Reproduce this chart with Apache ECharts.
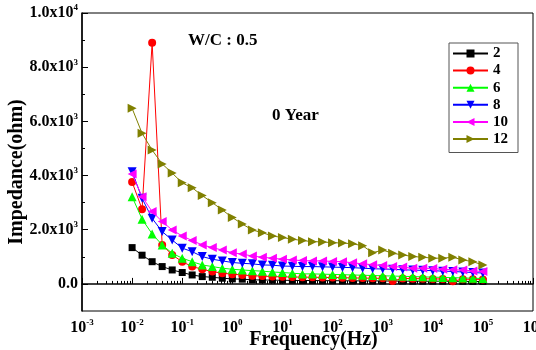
<!DOCTYPE html>
<html><head><meta charset="utf-8">
<script src="https://cdn.jsdelivr.net/npm/echarts@6/dist/echarts.min.js"></script>
<style>html,body{margin:0;padding:0;background:#fff}#c{width:536px;height:350px}</style>
</head><body><div id="c"></div>
<script>
var freq = [0.01,0.0158,0.0251,0.0398,0.0631,0.1,0.158,0.251,0.398,0.631,1,1.58,2.51,3.98,6.31,10,15.8,25.1,39.8,63.1,100,158,251,398,631,1000,1580,2510,3980,6310,10000,15800,25100,39800,63100,100000];
var s2  = [1340,1060,820,640,515,420,330,270,245,210,185,175,150,145,140,135,130,125,125,120,120,115,115,110,110,110,105,105,100,100,100,100,95,95,90,90];
var s4  = [3760,2760,8900,1440,1070,820,640,540,455,395,360,330,300,290,270,260,255,250,245,240,235,230,220,215,210,205,110,200,195,190,185,180,100,175,170,165];
var s6  = [3220,2390,1845,1440,1130,950,820,700,640,580,540,515,490,470,440,420,395,370,370,360,350,340,330,320,310,300,290,280,270,260,250,240,230,220,210,200];
var s8  = [4140,3160,2420,1930,1620,1320,1190,1010,910,850,790,760,740,700,690,660,650,640,640,630,620,610,600,580,560,550,540,520,510,500,490,470,460,440,420,400];
var s10 = [4060,3220,2670,2300,1990,1770,1600,1440,1340,1250,1150,1100,1030,985,950,910,885,860,850,850,830,820,780,740,710,680,640,620,580,580,570,540,520,510,480,460];
var s12 = [6480,5560,4940,4430,4090,3730,3550,3260,3000,2730,2450,2210,1990,1890,1770,1710,1650,1600,1560,1550,1520,1510,1480,1410,1150,1250,1130,1070,1010,985,950,950,985,885,820,700];
var seriesNames = ['2','4','6','8','10','12'];
var yLabelValues = [0,2000,4000,6000,8000,10000];
var yMinorValues = [1000,3000,5000,7000,9000];
var xMinorValues = [];
[0.001,0.01,0.1,1,10,100,1000,10000,100000].forEach(function(d){for(var m=2;m<=9;m++){xMinorValues.push(+(m*d).toPrecision(3));}});

var FONT = '"Liberation Serif","Times New Roman",serif';
function pairs(arr){return arr.map(function(v,i){return [freq[i],v];});}
var colors = ['#000000','#ff0000','#00ff00','#0000ff','#ff00ff','#808000'];
var symbols = ['rect','circle','path://M5,0L10,10L0,10Z','path://M0,0L10,0L5,10Z','path://M10,0L10,10L0,5Z','path://M0,0L10,5L0,10Z'];
var sizes = [7,8,9,9,9,9];
var data = [s2,s4,s6,s8,s10,s12];
var series = data.map(function(d,i){
  return {name:seriesNames[i],type:'line',data:pairs(d),symbol:symbols[i],symbolSize:sizes[i],
    itemStyle:{color:colors[i]},lineStyle:{color:colors[i],width:1},showSymbol:true,animation:false,z:2+i};
});
var rich = {b:{fontFamily:FONT,fontWeight:'bold',fontSize:16,color:'#000'},s:{fontFamily:FONT,fontWeight:'bold',fontSize:9,color:'#000',padding:[0,0,10,0]}};
var chart = echarts.init(document.getElementById('c'),null,{renderer:'canvas'});
chart.setOption({
  animation:false,
  grid:{left:82,right:3,top:13,bottom:39,show:true,borderColor:'#000',borderWidth:1,containLabel:false,outerBoundsMode:'none'},
  legend:{orient:'vertical',left:449,top:43,data:seriesNames,itemWidth:35,itemHeight:10,itemGap:2.1,
    padding:[3,10,6,3],borderColor:'#555',borderWidth:1,backgroundColor:'#fff',
    textStyle:{fontFamily:FONT,fontWeight:'bold',fontSize:15,color:'#000',lineHeight:14}},
  xAxis:[{type:'log',logBase:10,min:0.001,max:1000000,position:'bottom',
    axisLine:{lineStyle:{color:'#000',width:1.5}},
    axisTick:{inside:true,length:6,lineStyle:{color:'#000'}},
    splitLine:{show:false},
    axisLabel:{margin:7,formatter:function(v){return '{b|10}{s|'+Math.round(Math.log10(v))+'}';},rich:rich,showMaxLabel:true,showMinLabel:true},
    name:'Frequency(Hz)',nameLocation:'middle',nameGap:19,nameMoveOverlap:false,
    nameTextStyle:{fontFamily:FONT,fontWeight:'bold',fontSize:20,color:'#000',padding:[0,0,0,12]}},
   {type:'log',logBase:10,min:0.001,max:1000000,position:'bottom',gridIndex:0,
    axisLine:{show:false},axisLabel:{show:false},splitLine:{show:false},
    axisTick:{show:true,inside:true,length:3,customValues:xMinorValues,lineStyle:{color:'#000'}}}],
  yAxis:[{type:'value',min:-1000,max:10000,interval:1000,position:'left',
    axisLine:{show:true,lineStyle:{color:'#000',width:1.5}},
    axisTick:{show:true,inside:true,length:6,customValues:yLabelValues,lineStyle:{color:'#000'}},
    splitLine:{show:false},
    axisLabel:{margin:4,customValues:yLabelValues,rich:rich,formatter:function(v){
      if(v===0) return '{b|0.0}';
      var e=Math.floor(Math.log10(v)+1e-9); var m=v/Math.pow(10,e);
      return '{b|'+m.toFixed(1)+'x10}{s|'+e+'}';}},
    name:'Impedance(ohm)',nameLocation:'middle',nameGap:55,nameMoveOverlap:false,
    nameTextStyle:{fontFamily:FONT,fontWeight:'bold',fontSize:20,color:'#000',padding:[0,20,0,0]}},
   {type:'value',min:-1000,max:10000,interval:1000,position:'left',gridIndex:0,
    axisLine:{show:false},axisLabel:{show:false},splitLine:{show:false},
    axisTick:{show:true,inside:true,length:3,customValues:yMinorValues,lineStyle:{color:'#000'}}}],
  graphic:[
    {type:'text',left:188,top:32,style:{text:'W/C : 0.5',fill:'#000',font:'bold 17px '+FONT}},
    {type:'text',left:272,top:107,style:{text:'0 Year',fill:'#000',font:'bold 17px '+FONT}}
  ],
  series:series
});
</script></body></html>
